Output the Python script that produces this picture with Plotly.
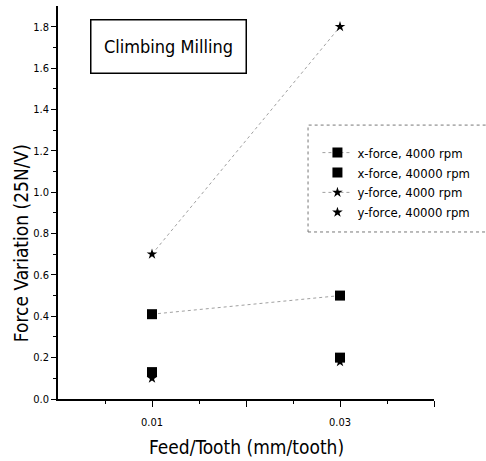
import plotly.graph_objects as go

feed = [0.01, 0.03]
xf_4000 = [0.41, 0.50]
xf_40000 = [0.13, 0.20]
yf_4000 = [0.70, 1.80]
yf_40000 = [0.10, 0.18]
names = ["x-force, 4000 rpm", "x-force, 40000 rpm", "y-force, 4000 rpm", "y-force, 40000 rpm"]

FONT = "DejaVu Sans Condensed, Liberation Sans Narrow, Arial"
fig = go.Figure()
fig.add_trace(go.Scatter(x=feed, y=xf_4000, name=names[0], mode="lines+markers",
                         line=dict(color="#888", width=0.8, dash="dot"),
                         marker=dict(symbol="square", size=10, color="black")))
fig.add_trace(go.Scatter(x=feed, y=xf_40000, name=names[1], mode="markers",
                         marker=dict(symbol="square", size=10, color="black")))
fig.add_trace(go.Scatter(x=feed, y=yf_4000, name=names[2], mode="lines+markers",
                         line=dict(color="#888", width=0.8, dash="dot"),
                         marker=dict(symbol="star", size=8, color="black")))
fig.add_trace(go.Scatter(x=feed, y=yf_40000, name=names[3], mode="markers",
                         marker=dict(symbol="star", size=8, color="black")))

fig.update_layout(
    width=486, height=461,
    margin=dict(l=58, r=52, t=6, b=62),
    paper_bgcolor="white", plot_bgcolor="white",
    font=dict(family=FONT, color="black", size=11),
    showlegend=True,
    legend=dict(x=0.69, y=0.665, xanchor="left", yanchor="top",
                bgcolor="rgba(0,0,0,0)", font=dict(size=13, family=FONT),
                tracegroupgap=0, itemwidth=30),
    xaxis=dict(range=[0, 0.04], showgrid=False, zeroline=False,
               showline=True, linecolor="black", linewidth=1.5,
               tickmode="array", tickvals=[0.01, 0.02, 0.03, 0.04],
               ticktext=["0.01", "", "0.03", ""],
               ticks="outside", ticklen=6, tickcolor="black", ticklabelstandoff=6,
               minor=dict(tickvals=[0.005, 0.015, 0.025, 0.035], ticks="outside", ticklen=3, tickcolor="black"),
               tickfont=dict(size=11)),
    yaxis=dict(range=[0, 1.9], showgrid=False, zeroline=False,
               showline=True, linecolor="black", linewidth=1.5,
               tickmode="array", tickvals=[0, 0.2, 0.4, 0.6, 0.8, 1.0, 1.2, 1.4, 1.6, 1.8],
               ticktext=["0.0", "0.2", "0.4", "0.6", "0.8", "1.0", "1.2", "1.4", "1.6", "1.8"],
               ticks="outside", ticklen=5, tickcolor="black",
               minor=dict(tickvals=[0.1, 0.3, 0.5, 0.7, 0.9, 1.1, 1.3, 1.5, 1.7], ticks="outside", ticklen=3, tickcolor="black"),
               tickfont=dict(size=11)),
)

fig.add_annotation(xref="paper", yref="paper", x=0.5, y=-0.122, xanchor="center", yanchor="middle",
                   text="Feed/Tooth (mm/tooth)", showarrow=False, font=dict(size=19, family=FONT))
fig.add_annotation(xref="paper", yref="paper", x=-0.098, y=0.397, xanchor="center", yanchor="middle",
                   text="Force Variation (25N/V)", textangle=-90, showarrow=False,
                   font=dict(size=19, family=FONT))

fig.add_shape(type="rect", xref="paper", yref="paper", x0=0.665, x1=1.15, y0=0.425, y1=0.697,
              line=dict(color="#777", width=1, dash="dot"))
fig.add_annotation(xref="paper", yref="paper", x=0.295, y=0.898, xanchor="center", yanchor="middle",
                   text="Climbing Milling",
                   showarrow=False, font=dict(size=18, family=FONT),
                   bordercolor="black", borderwidth=1.5, width=152, height=50, bgcolor="white")

fig.write_html("out.html")
